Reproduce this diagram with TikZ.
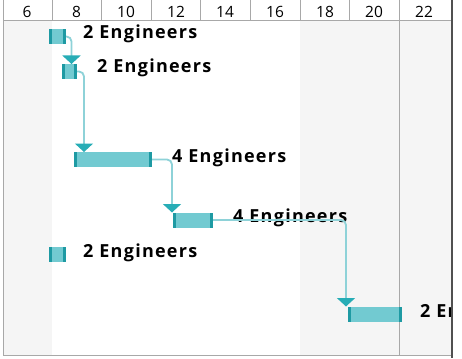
\documentclass[tikz,border=0pt]{standalone}
\usepackage{fontspec}
\setmainfont{Open Sans}
\newfontfamily\lblfont[LetterSpace=7]{Open Sans}
\usetikzlibrary{arrows.meta}
\definecolor{barfill}{HTML}{72CAD1}
\definecolor{barcap}{HTML}{1E9AA3}
\definecolor{linkc}{HTML}{8ED2D8}
\definecolor{tipc}{HTML}{27ADB6}
\definecolor{bgshade}{HTML}{F5F5F5}
\definecolor{gridc}{HTML}{A8A8A8}
\definecolor{borderc}{HTML}{505050}
\tikzset{
  bar/.style={inner sep=0pt, outer sep=0pt, minimum height=15pt, fill=barfill,
    path picture={
      \fill[barcap] (path picture bounding box.south west) rectangle ([xshift=3pt]path picture bounding box.north west);
      \fill[barcap] ([xshift=-3pt]path picture bounding box.south east) rectangle (path picture bounding box.north east);
    }},
  lbl/.style={anchor=base west, inner sep=0pt, font=\lblfont\fontsize{18}{22}\selectfont\bfseries},
  hdr/.style={anchor=base, inner sep=0pt, font=\fontsize{15.5}{18}\selectfont},
  link/.style={draw=linkc, line width=1.8pt, rounded corners=5pt,
    -{Triangle[width=18pt,length=8.5pt,color=tipc,fill=tipc]}},
  tick/.style={draw=gridc, line width=0.8pt}
}
\begin{document}
\begin{tikzpicture}[x=1pt,y=-1pt]
\useasboundingbox (0,0) rectangle (462,358);
% background
\fill[white] (0,0) rectangle (462,358);
\fill[bgshade] (3,20) rectangle (52,356);
\fill[bgshade] (300,20) rectangle (452,356);
% header ticks
\foreach \x in {52,101,151,200,250,300,349,399} \draw[tick] (\x,0) -- (\x,20);
\draw[tick] (399,20) -- (399,356);
\draw[tick] (3,20) -- (452,20);
\draw[tick] (3,0) -- (3,356);
\draw[tick] (3,355.5) -- (452,355.5);
% header labels
\node[hdr] (h6) at (27,18) {6};
\node[hdr] (h8) at (76.5,18) {8};
\node[hdr] (h10) at (126,18) {10};
\node[hdr] (h12) at (176,18) {12};
\node[hdr] (h14) at (225,18) {14};
\node[hdr] (h16) at (275,18) {16};
\node[hdr] (h18) at (325,18) {18};
\node[hdr] (h20) at (374,18) {20};
\node[hdr] (h22) at (424,18) {22};
% bars
\node[bar, minimum width=17pt] (b1) at (57.5,36.5) {};
\node[bar, minimum width=15pt] (b2) at (69.5,71.5) {};
\node[bar, minimum width=78pt] (b3) at (113,159.5) {};
\node[bar, minimum width=40pt] (b4) at (193,220) {};
\node[bar, minimum width=54pt] (b5) at (375,314) {};
\node[bar, minimum width=17pt] (b6) at (57.5,254.5) {};
% labels
\node[lbl] (l1) at (83,39) {2 Engineers};
\node[lbl] (l2) at (97,73) {2 Engineers};
\node[lbl] (l3) at (172,162) {4 Engineers};
\node[lbl] (l4) at (233,222) {4 Engineers};
\node[lbl] (l6) at (83,257) {2 Engineers};
\begin{scope}
  \clip (0,20) rectangle (451,356);
  \node[lbl] (l5) at (420,317) {2 Engineers};
\end{scope}
\fill[white] (452,0) rectangle (462,358);
\draw[borderc, line width=2pt] (452,0) -- (452,358);
% connectors
\coordinate (t2) at (71.5,64);
\coordinate (t3) at (84,152);
\coordinate (t4) at (172,212.5);
\coordinate (t5) at (346,306.5);
\draw[link] (b1.east) -| (t2);
\draw[link] (b2.east) -| (t3);
\draw[link] (b3.east) -| (t4);
\draw[link] (b4.east) -| (t5);
\end{tikzpicture}
\end{document}
